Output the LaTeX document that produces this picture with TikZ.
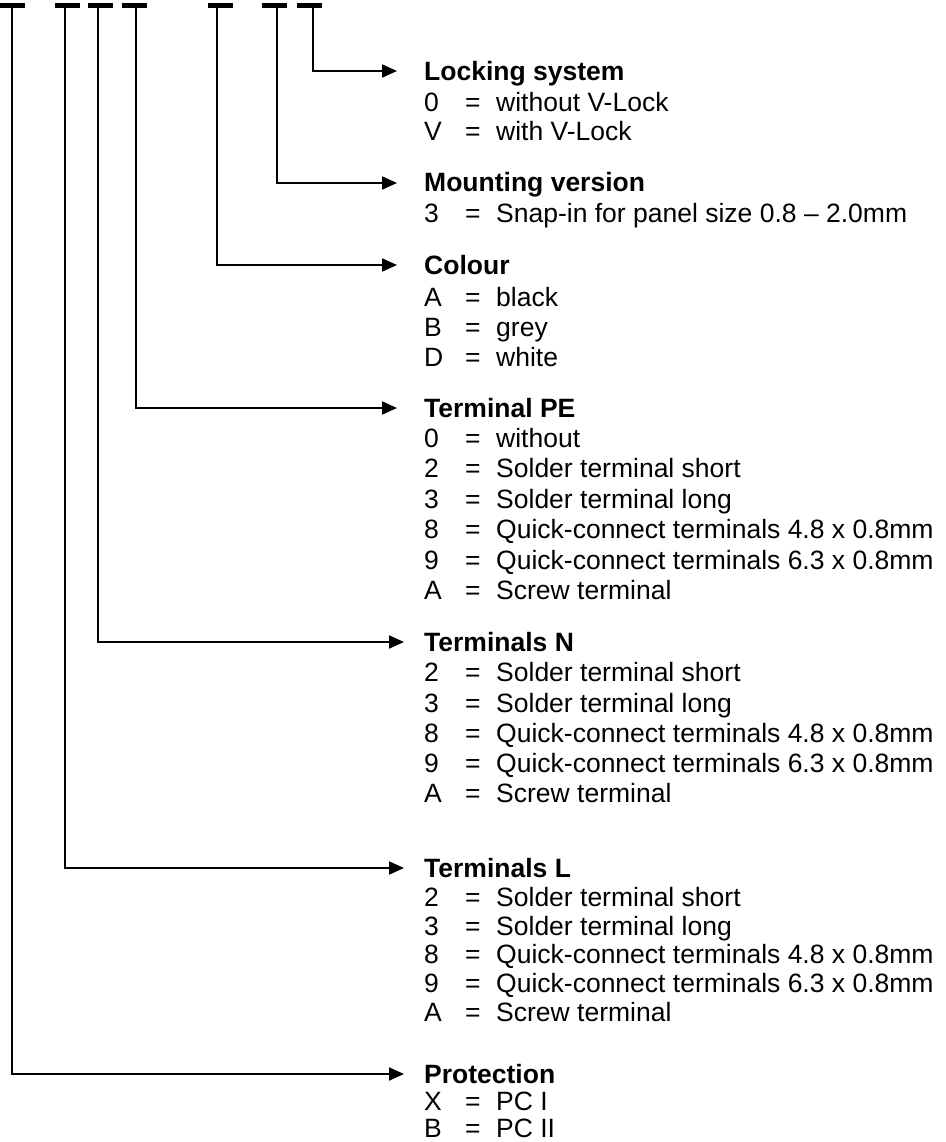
\documentclass[tikz,border=0pt]{standalone}
\usepackage{fontspec}
\setmainfont{Liberation Sans}
\usetikzlibrary{arrows.meta}
\newcommand\myrow[4]{%
  \node[txt] (#1k) at (424,#2) {#3};
  \node[txt] (#1e) at (465,#2) {=};
  \node[txt] (#1v) at (496,#2) {#4};}
\begin{document}
\begin{tikzpicture}[x=1pt,y=-1pt,
  bar/.style={fill=black,draw=none,inner sep=0pt,minimum width=25pt,minimum height=5.5pt},
  conn/.style={line width=2pt,-{Triangle[length=15pt,width=13pt]}},
  head/.style={anchor=base west,inner sep=0pt,font=\fontsize{26.5}{30}\selectfont\bfseries},
  txt/.style={anchor=base west,inner sep=0pt,font=\fontsize{26.5}{30}\selectfont},
]
\useasboundingbox (0,0) rectangle (945,1142);
% bars at top
\node[bar] (b1) at (12.5,5.5) {};
\node[bar] (b2) at (67,5.5) {};
\node[bar] (b3) at (100,5.5) {};
\node[bar] (b4) at (134,5.5) {};
\node[bar] (b5) at (220,5.5) {};
\node[bar] (b6) at (274,5.5) {};
\node[bar] (b7) at (309.5,5.5) {};
% arrow tips
\coordinate (t7) at (397,71);
\coordinate (t6) at (397,183);
\coordinate (t5) at (397,265);
\coordinate (t4) at (397,408);
\coordinate (t3) at (404,642);
\coordinate (t2) at (404,868);
\coordinate (t1) at (404,1074);
% headings and entries
\node[head] (h7) at (424,81) {Locking system};
\myrow{r71}{112}{0}{without V-Lock}
\myrow{r72}{141}{V}{with V-Lock}
\node[head] (h6) at (424,192) {Mounting version};
\myrow{r61}{222}{3}{Snap-in for panel size 0.8 – 2.0mm}
\node[head] (h5) at (424,274) {Colour};
\myrow{r51}{306}{A}{black}
\myrow{r52}{336}{B}{grey}
\myrow{r53}{366}{D}{white}
\node[head] (h4) at (424,417) {Terminal PE};
\myrow{r41}{447}{0}{without}
\myrow{r42}{477}{2}{Solder terminal short}
\myrow{r43}{508}{3}{Solder terminal long}
\myrow{r44}{538}{8}{Quick-connect terminals 4.8 x 0.8mm}
\myrow{r45}{569}{9}{Quick-connect terminals 6.3 x 0.8mm}
\myrow{r46}{599}{A}{Screw terminal}
\node[head] (h3) at (424,651) {Terminals N};
\myrow{r31}{681}{2}{Solder terminal short}
\myrow{r32}{712}{3}{Solder terminal long}
\myrow{r33}{742}{8}{Quick-connect terminals 4.8 x 0.8mm}
\myrow{r34}{772}{9}{Quick-connect terminals 6.3 x 0.8mm}
\myrow{r35}{802}{A}{Screw terminal}
\node[head] (h2) at (424,877) {Terminals L};
\myrow{r21}{906}{2}{Solder terminal short}
\myrow{r22}{935}{3}{Solder terminal long}
\myrow{r23}{963}{8}{Quick-connect terminals 4.8 x 0.8mm}
\myrow{r24}{992}{9}{Quick-connect terminals 6.3 x 0.8mm}
\myrow{r25}{1021}{A}{Screw terminal}
\node[head] (h1) at (424,1083) {Protection};
\myrow{r11}{1110}{X}{PC I}
\myrow{r12}{1137}{B}{PC II}
% connectors
\draw[conn] ([xshift=3.5pt]b7.south) |- (t7);
\draw[conn] ([xshift=3pt]b6.south) |- (t6);
\draw[conn] ([xshift=-3pt]b5.south) |- (t5);
\draw[conn] ([xshift=2pt]b4.south) |- (t4);
\draw[conn] ([xshift=-2pt]b3.south) |- (t3);
\draw[conn] ([xshift=-2pt]b2.south) |- (t2);
\draw[conn] ([xshift=-0.5pt]b1.south) |- (t1);
\end{tikzpicture}
\end{document}
